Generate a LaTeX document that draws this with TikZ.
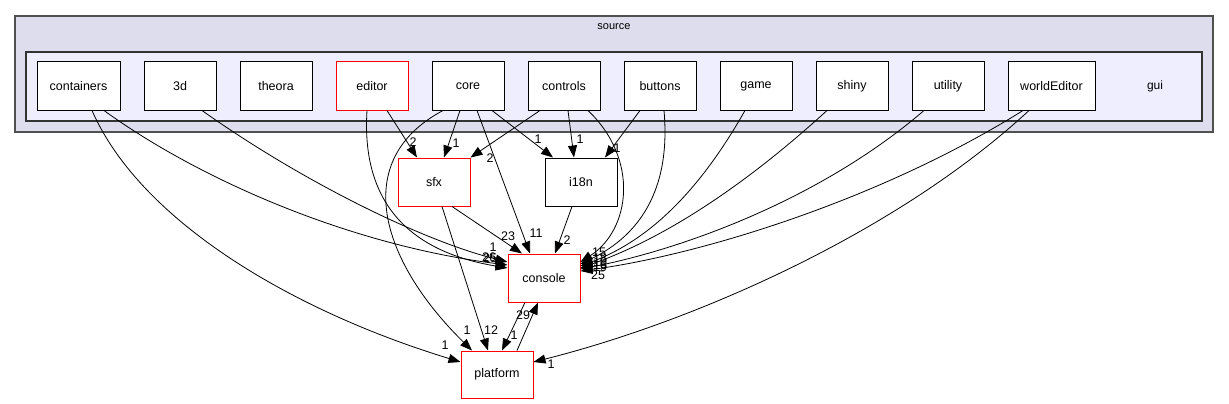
\documentclass[tikz,border=0pt]{standalone}
\usepackage{fontspec}
\setmainfont{Liberation Sans}
\usepackage{tikz}
\usetikzlibrary{arrows.meta}

\definecolor{outerfill}{HTML}{DDDDEE}
\definecolor{innerfill}{HTML}{EEEEFF}
\definecolor{boxline}{HTML}{505050}

\begin{document}
\begin{tikzpicture}[x=1pt,y=-1pt,
    dirnode/.style={draw=black, fill=white, line width=1pt, minimum width=72pt, minimum height=48pt,
      inner sep=0pt, font=\fontsize{12.5}{14}\selectfont},
    reddir/.style={dirnode, draw=red},
    dep/.style={-{Triangle[length=12pt,width=9pt]}, line width=0.8pt},
    elabel/.style={inner sep=0pt, font=\fontsize{12.5}{14}\selectfont}]
    \useasboundingbox (0,0) rectangle (1229,404);

    % clusters
    \draw[boxline, fill=outerfill, line width=1.2pt] (15,16) rectangle (1213,132);
    \node (source) at (614,27) {\fontsize{11}{13}\selectfont source};
    \draw[black!80, fill=innerfill, line width=1.2pt] (26,52) rectangle (1202,121);
    \node (gui) at (1155,86) {\fontsize{12}{14}\selectfont gui};

    % directories inside gui
    \node[dirnode, minimum width=83pt] (containers) at (78.5,86) {containers};
    \node[dirnode] (3d) at (180,86) {3d};
    \node[dirnode] (theora) at (276,86) {theora};
    \node[reddir] (editor) at (372,86) {editor};
    \node[dirnode] (core) at (468,86) {core};
    \node[dirnode] (controls) at (564,86) {controls};
    \node[dirnode] (buttons) at (660,86) {buttons};
    \node[dirnode] (game) at (756,86) {game};
    \node[dirnode] (shiny) at (852,86) {shiny};
    \node[dirnode] (utility) at (948,86) {utility};
    \node[dirnode, minimum width=87pt] (worldEditor) at (1051.5,86) {worldEditor};

    % other directories
    \node[reddir] (sfx) at (434,182) {sfx};
    \node[dirnode] (i18n) at (581,182) {i18n};
    \node[reddir] (console) at (544,278) {console};
    \node[reddir, minimum height=47pt] (platform) at (497,374.5) {platform};

    % containers, 3d, editor
    \draw[dep] ([xshift=13.5pt]containers.south) .. controls (140,220) and (290,310) .. ([yshift=12.5pt]platform.west)
      node[elabel] at (445,345) {1};
    \draw[dep] ([xshift=25.5pt]containers.south) .. controls (200,180) and (350,245) .. ([yshift=13pt]console.west)
      node[elabel] at (489,257) {26};
    \draw[dep] ([xshift=22pt]3d.south) .. controls (300,180) and (420,240) .. ([yshift=16pt]console.west)
      node[elabel] at (490,258) {25};
    \draw[dep] ([xshift=15pt]editor.south) -- ([xshift=-17pt]sfx.north)
      node[elabel] at (413,142) {2};
    \draw[dep] ([xshift=-5pt]editor.south) .. controls (360,220) and (430,255) .. ([yshift=10pt]console.west)
      node[elabel] at (493,247) {1};

    % core
    \draw[dep] ([xshift=-8pt]core.south) -- ([xshift=10pt]sfx.north)
      node[elabel] at (456,143) {1};
    \draw[dep] ([xshift=-25pt]core.south) .. controls (350,160) and (380,260) .. ([xshift=-25pt]platform.north)
      node[elabel] at (467,330) {1};
    \draw[dep] ([xshift=9pt]core.south) -- ([xshift=-14pt]console.north)
      node[elabel] at (536,233) {11};
    \draw[dep] ([xshift=24pt]core.south) -- ([xshift=-28pt]i18n.north)
      node[elabel] at (538,139) {1};

    % controls, buttons
    \draw[dep] ([xshift=-24pt]controls.south) -- (sfx.north east)
      node[elabel] at (490,158) {2};
    \draw[dep] ([xshift=4pt]controls.south) -- ([xshift=-7pt]i18n.north)
      node[elabel] at (580,139) {1};
    \draw[dep] ([xshift=24pt]controls.south) .. controls (640,160) and (630,230) .. ([yshift=16pt]console.east)
      node[elabel] at (599,252) {15};
    \draw[dep] ([xshift=-20pt]buttons.south) -- ([xshift=24pt]i18n.north)
      node[elabel] at (617,148) {1};
    \draw[dep] ([xshift=4pt]buttons.south) .. controls (672,200) and (630,240) .. ([yshift=14pt]console.east)
      node[elabel] at (600,258) {18};

    % game, shiny, utility, worldEditor
    \draw[dep] ([xshift=-11pt]game.south) .. controls (700,190) and (650,240) .. ([yshift=12pt]console.east)
      node[elabel] at (600,262) {10};
    \draw[dep] ([xshift=-25pt]shiny.south) .. controls (740,190) and (660,240) .. ([yshift=10pt]console.east)
      node[elabel] at (600,265) {16};
    \draw[dep] ([xshift=-24pt]utility.south) .. controls (820,200) and (680,250) .. ([yshift=9pt]console.east)
      node[elabel] at (600,267) {19};
    \draw[dep] ([xshift=-28.5pt]worldEditor.south) .. controls (880,200) and (700,255) .. ([yshift=7pt]console.east)
      node[elabel] at (598,275) {25};
    \draw[dep] ([xshift=-22.5pt]worldEditor.south) .. controls (900,230) and (700,320) .. ([yshift=12.5pt]platform.east)
      node[elabel] at (551,364) {1};

    % sfx, i18n, console, platform
    \draw[dep] ([xshift=18pt]sfx.south) -- ([xshift=-22pt]console.north)
      node[elabel] at (508,236) {23};
    \draw[dep] ([xshift=8pt]sfx.south) -- ([xshift=-9pt]platform.north)
      node[elabel] at (491,330) {12};
    \draw[dep] ([xshift=-9pt]i18n.south) -- ([xshift=11pt]console.north)
      node[elabel] at (567,240) {2};
    \draw[dep] ([xshift=-19pt]console.south) -- ([xshift=5pt]platform.north)
      node[elabel] at (514,335) {1};
    \draw[dep] ([xshift=20pt]platform.north) -- ([xshift=-6pt]console.south)
      node[elabel] at (523,315) {29};
\end{tikzpicture}
\end{document}
